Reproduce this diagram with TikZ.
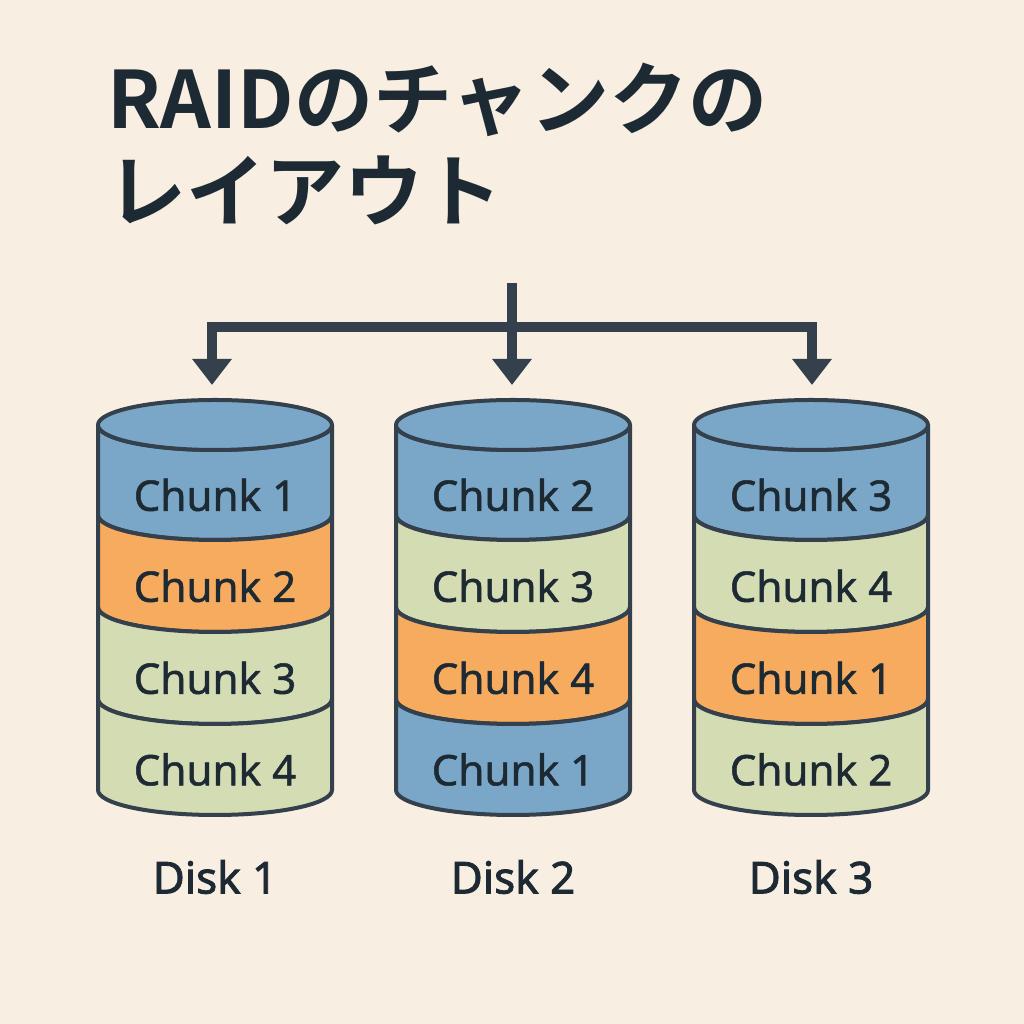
\documentclass[tikz,border=0pt]{standalone}
\usepackage{fontspec}
\setmainfont{Noto Sans}
\newfontfamily\jpfont{Noto Sans CJK JP Bold}
\newfontfamily\medsans{Noto Sans}[FakeBold=1.2]
\newfontfamily\semisans{Noto Sans}[FakeBold=2]
\usetikzlibrary{arrows.meta}
\definecolor{bg}{HTML}{F8EEE2}
\definecolor{ink}{HTML}{34404B}
\definecolor{cblue}{HTML}{7AA7C7}
\definecolor{corange}{HTML}{F7AB5E}
\definecolor{cgreen}{HTML}{D3DCB3}
\definecolor{txt}{HTML}{1E2A33}
\tikzset{
  conn/.style={line width=0.1cm,draw=ink},
  arr/.style={conn,-{Triangle[width=0.38cm,length=0.26cm]}},
  outl/.style={draw=ink,line width=0.04cm,line join=round},
  chunk/.style={font=\medsans\fontsize{12}{14}\selectfont,text=txt},
  disklbl/.style={font=\semisans\fontsize{12.5}{14}\selectfont,text=txt},
  title/.style={anchor=west,font=\jpfont\fontsize{22.5}{26}\selectfont,text=txt}
}
\newcommand{\band}[5]{% x, top, bottom, color, label
  \path[outl,fill=#4] (#1-117,#2) arc[start angle=180,end angle=360,x radius=117,y radius=25]
     -- (#1+117,#3) arc[start angle=0,end angle=-180,x radius=117,y radius=25] -- cycle;
  \node[chunk] at (#1,{(#2+#3)/2-25}) {#5};
}
\begin{document}
\begin{tikzpicture}[x=0.01cm,y=0.01cm]
\fill[bg] (0,0) rectangle (1024,1024);
\useasboundingbox (0,0) rectangle (1024,1024);
\node[title] (t1) at (95,924) {RAIDのチャンクの};
\node[title] (t2) at (95,834) {レイアウト};
\coordinate (src) at (512,741);
\coordinate (hub) at (512,697);
\coordinate (hl) at (212,697);
\coordinate (hr) at (812,697);
\coordinate (d1) at (212,639);
\coordinate (d2) at (512,639);
\coordinate (d3) at (812,639);
\draw[conn] (src) -- (hub);
\draw[conn,line cap=rect] (hl) -- (hr);
\draw[arr] (hl) -- (d1);
\draw[arr] (hr) -- (d3);
\draw[arr] (hub) -- (d2);
\foreach \x/\a/\b/\c/\d/\ca/\cb/\cc/\cd/\n in {
 215/Chunk 1/Chunk 2/Chunk 3/Chunk 4/cblue/corange/cgreen/cgreen/1,
 513/Chunk 2/Chunk 3/Chunk 4/Chunk 1/cblue/cgreen/corange/cblue/2,
 811/Chunk 3/Chunk 4/Chunk 1/Chunk 2/cblue/cgreen/corange/cgreen/3}{
  \band{\x}{599}{509}{\ca}{\a}
  \band{\x}{509}{417}{\cb}{\b}
  \band{\x}{417}{325}{\cc}{\c}
  \band{\x}{325}{234}{\cd}{\d}
  \path[outl,fill=cblue] (\x,599) ellipse[x radius=117,y radius=25];
  \node[disklbl] (disk\n) at (\x,147) {Disk \n};
}
\end{tikzpicture}
\end{document}
